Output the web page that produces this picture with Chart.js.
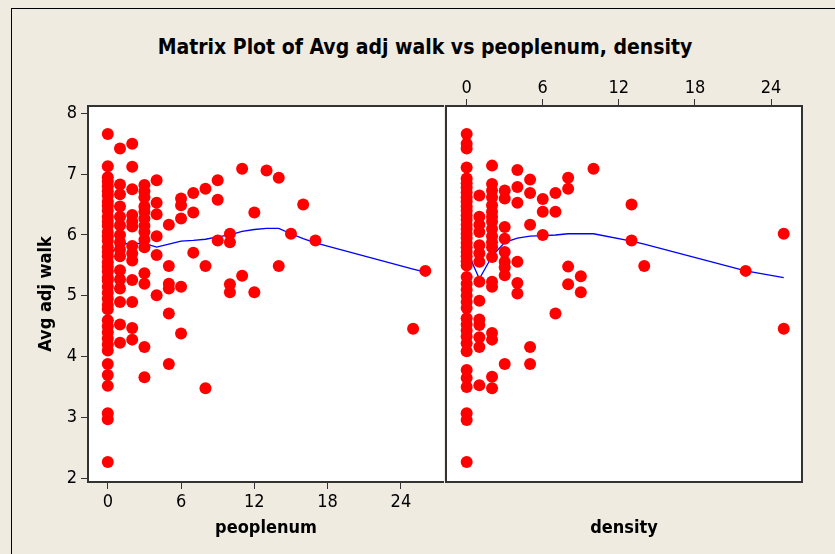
<!DOCTYPE html>
<html>
<head>
<meta charset="utf-8">
<script src="https://cdn.jsdelivr.net/npm/chart.js@4.4.0/dist/chart.umd.min.js"></script>
<style>
  body { margin: 0; width: 835px; height: 554px; overflow: hidden; position: relative; background: #EFEBE1; }
  #frame { position: absolute; left: 11px; top: 8px; width: 900px; height: 700px; border-left: 1px solid #000; border-top: 1px solid #000; }
  #title { position: absolute; left: 0; width: 850px; top: 35px; text-align: center; line-height: 24px;
           font: bold 21px 'DejaVu Sans Condensed', 'DejaVu Sans', sans-serif; color: #000; }
  canvas { position: absolute; top: 0; }
  #left { left: 0; }
  #right { left: 440px; }
</style>
</head>
<body>
<div id="frame"></div>
<div id="title">Matrix Plot of Avg adj walk vs peoplenum, density</div>
<canvas id="left" width="450" height="554"></canvas>
<canvas id="right" width="395" height="554"></canvas>
<script>
const yTicks = [2, 3, 4, 5, 6, 7, 8];
const xTicks = [0, 6, 12, 18, 24];

// Avg adj walk grouped by peoplenum
const peopleLevels = [0, 1, 2, 3, 4, 5, 6, 7, 8, 9, 10, 11, 12, 13, 14, 15, 16, 17, 25, 26];
const walkByPeople = [
    [7.66, 7.13, 6.95, 6.88, 6.8, 6.72, 6.65, 6.55, 6.48, 6.4, 6.3, 6.22, 6.15, 6.05, 5.98, 5.9, 5.8, 5.72, 5.65, 5.55,
     5.48, 5.4, 5.3, 5.25, 5.15, 5.05, 4.95, 4.85, 4.78, 4.6, 4.5, 4.4, 4.3, 4.2, 4.1, 3.88, 3.7, 3.52, 3.07, 2.97, 2.27],
    [7.42, 6.83, 6.67, 6.47, 6.3, 6.16, 6.0, 5.88, 5.76, 5.65, 5.42, 5.27, 5.12, 4.9, 4.53, 4.23],
    [7.5, 7.12, 6.75, 6.33, 6.22, 6.14, 5.82, 5.7, 5.58, 5.26, 4.9, 4.47, 4.28],
    [6.82, 6.72, 6.62, 6.47, 6.38, 6.27, 6.15, 6.05, 5.92, 5.8, 5.37, 5.2, 4.16, 3.66],
    [6.9, 6.53, 6.34, 5.98, 5.67, 5.01],
    [6.17, 5.49, 5.2, 5.12, 4.71, 3.88],
    [6.6, 6.49, 6.27, 5.15, 4.38],
    [6.69, 6.37, 5.71],
    [6.76, 5.49, 3.48],
    [6.9, 6.58, 5.91],
    [6.02, 5.88, 5.19, 5.06],
    [7.09, 5.33],
    [6.37, 5.06],
    [7.06],
    [6.94, 5.49],
    [6.02],
    [6.5],
    [5.91],
    [4.46],
    [5.41]
];

// Avg adj walk grouped by density
const densityLevels = [0, 1, 2, 3, 4, 5, 6, 7, 8, 9, 10, 13, 14, 22, 25];
const walkByDensity = [
    [7.66, 7.5, 7.42, 7.11, 6.93, 6.85, 6.78, 6.7, 6.62, 6.55, 6.47, 6.4, 6.32, 6.25, 6.17, 6.1, 6.02, 5.95, 5.87, 5.8,
     5.72, 5.65, 5.57, 5.5, 5.31, 5.2, 5.1, 5.0, 4.9, 4.8, 4.63, 4.53, 4.43, 4.33, 4.22, 4.09, 3.78, 3.65, 3.5, 3.07, 2.96, 2.27],
    [6.65, 6.3, 6.17, 6.05, 5.83, 5.7, 5.56, 5.23, 4.92, 4.61, 4.52, 4.32, 4.16, 3.53],
    [7.14, 6.84, 6.73, 6.62, 6.49, 6.38, 6.3, 6.22, 6.1, 5.98, 5.88, 5.8, 5.64, 5.23, 5.15, 4.39, 4.28, 3.67, 3.48],
    [6.73, 6.6, 6.13, 5.94, 5.72, 5.56, 5.47, 5.34, 3.88],
    [7.07, 6.79, 6.53, 5.56, 5.21, 5.04],
    [6.91, 6.69, 6.17, 4.16, 3.88],
    [6.59, 6.38, 6.0],
    [6.69, 6.38, 4.71],
    [6.94, 6.76, 5.48, 5.19],
    [5.32, 5.06],
    [7.09],
    [6.5, 5.91],
    [5.49],
    [5.41],
    [6.02, 4.46]
];

// lowess smoother
const peopleFitX = [0, 1, 2, 3, 4, 5, 6, 7, 8, 9, 10, 11, 12, 13, 14, 15, 16, 17, 25, 26];
const peopleFitY = [5.65, 5.85, 5.86, 5.86, 5.8, 5.85, 5.9, 5.91, 5.93, 5.97, 6.0, 6.06, 6.09, 6.11, 6.11, 6.02, 5.94, 5.87, 5.44, 5.39];
const densityFitX = [0, 1, 2, 3, 4, 5, 6, 7, 8, 9, 10, 13, 14, 22, 25];
const densityFitY = [5.75, 5.28, 5.65, 5.88, 5.95, 5.98, 5.99, 6.0, 6.02, 6.02, 6.02, 5.9, 5.85, 5.41, 5.3];

const toPoints = (levels, groups) =>
    levels.flatMap((x, i) => groups[i].map(y => ({ x: x, y: y })));
const toLine = (xs, ys) => xs.map((x, i) => ({ x: x, y: ys[i] }));

const tickFont = { family: "'DejaVu Sans Condensed', 'DejaVu Sans', sans-serif", size: 18, lineHeight: 1.2 };
const titleFont = { family: "'DejaVu Sans Condensed', 'DejaVu Sans', sans-serif", size: 18, weight: 'bold', lineHeight: 1.2 };
const tickGrid = { drawOnChartArea: false, drawTicks: true, tickLength: 7, color: '#333', lineWidth: 1 };

// white panel with a dark frame; sides listed in opts.skip are left out
const panelBox = {
    id: 'panelBox',
    beforeDatasetsDraw(chart) {
        const { ctx, chartArea: a } = chart;
        ctx.save();
        ctx.fillStyle = '#fff';
        ctx.fillRect(a.left, a.top, a.right - a.left, a.bottom - a.top);
        ctx.restore();
    },
    afterDatasetsDraw(chart, args, opts) {
        const { ctx, chartArea: a } = chart;
        const skip = opts.skip || [];
        ctx.save();
        ctx.strokeStyle = '#333';
        ctx.lineWidth = 2;
        ctx.beginPath();
        ctx.moveTo(a.left, a.top);
        ctx.lineTo(a.right, a.top);
        ctx.moveTo(a.left, a.bottom);
        ctx.lineTo(a.right, a.bottom);
        if (!skip.includes('left')) { ctx.moveTo(a.left, a.top - 1); ctx.lineTo(a.left, a.bottom + 1); }
        if (!skip.includes('right')) { ctx.moveTo(a.right, a.top - 1); ctx.lineTo(a.right, a.bottom + 1); }
        ctx.stroke();
        ctx.restore();
    }
};

function makeDatasets(points, line) {
    return [
        {
            data: points,
            backgroundColor: '#ff0000',
            borderWidth: 0,
            pointRadius: 6,
            pointHoverRadius: 6
        },
        {
            data: line,
            showLine: true,
            borderColor: '#0000ff',
            borderWidth: 1.3,
            pointRadius: 0,
            tension: 0,
            fill: false
        }
    ];
}

const setTicks = values => scale => { scale.ticks = values.map(v => ({ value: v })); };

new Chart(document.getElementById('left'), {
    type: 'scatter',
    data: { datasets: makeDatasets(toPoints(peopleLevels, walkByPeople), toLine(peopleFitX, peopleFitY)) },
    options: {
        responsive: false,
        animation: false,
        layout: { padding: { left: 35, right: 5, top: 106, bottom: 0 } },
        plugins: { legend: { display: false }, tooltip: { enabled: false }, panelBox: { skip: ['right'] } },
        scales: {
            x: {
                type: 'linear', position: 'bottom', min: -1.62, max: 27.53,
                afterBuildTicks: setTicks(xTicks),
                afterFit: s => { s.height = 72; },
                grid: tickGrid,
                border: { display: false },
                ticks: { font: tickFont, color: '#000', padding: 3, maxRotation: 0 },
                title: { display: true, text: 'peoplenum', font: titleFont, color: '#000', padding: { top: 0, bottom: 15 } }
            },
            y: {
                type: 'linear', min: 1.94, max: 8.12,
                afterBuildTicks: setTicks(yTicks),
                afterFit: s => { s.width = 53; },
                grid: tickGrid,
                border: { display: false },
                ticks: { font: tickFont, color: '#000', padding: 4 },
                title: { display: true, text: 'Avg adj walk', font: titleFont, color: '#000', padding: { top: 1, bottom: 0 } }
            }
        }
    },
    plugins: [panelBox]
});

new Chart(document.getElementById('right'), {
    type: 'scatter',
    data: { datasets: makeDatasets(toPoints(densityLevels, walkByDensity), toLine(densityFitX, densityFitY)) },
    options: {
        responsive: false,
        animation: false,
        layout: { padding: { left: 5, right: 33, top: 60, bottom: 0 } },
        plugins: { legend: { display: false }, tooltip: { enabled: false }, panelBox: {} },
        scales: {
            x: {
                type: 'linear', position: 'top', min: -1.63, max: 26.44,
                afterBuildTicks: setTicks(xTicks),
                afterFit: s => { s.height = 46; },
                grid: tickGrid,
                border: { display: false },
                ticks: { font: tickFont, color: '#000', padding: 0, maxRotation: 0 }
            },
            xb: {
                type: 'linear', position: 'bottom', axis: 'x', min: -1.63, max: 26.44,
                afterFit: s => { s.height = 72; },
                grid: { display: false },
                border: { display: false },
                ticks: { display: false },
                title: { display: true, text: 'density', font: titleFont, color: '#000', padding: { top: 0, bottom: 15 } }
            },
            y: { type: 'linear', display: false, min: 1.94, max: 8.12 }
        }
    },
    plugins: [panelBox]
});
</script>
</body>
</html>
